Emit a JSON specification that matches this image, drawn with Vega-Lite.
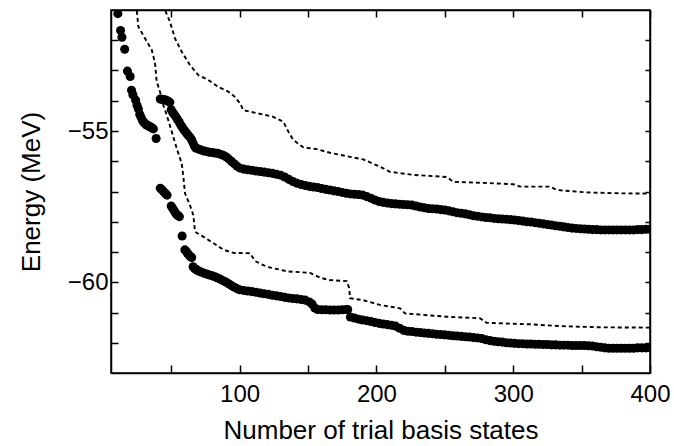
{
  "$schema": "https://vega.github.io/schema/vega-lite/v6.json",
  "width": 539,
  "height": 363,
  "autosize": "none",
  "padding": {"left": 111, "top": 10, "right": 24, "bottom": 73},
  "background": "white",
  "config": {
    "font": "Liberation Sans",
    "view": {"stroke": "black", "strokeWidth": 1.5},
    "axis": {"grid": false, "domainColor": "black", "domainWidth": 1.5, "tickColor": "black", "tickWidth": 1.5, "labelColor": "black", "titleColor": "black", "titleFontWeight": "normal", "labelFont": "Liberation Sans", "titleFont": "Liberation Sans"}
  },
  "datasets": {
    "dots": [
      {"n":11,"E":-51.12,"s":"A"},{"n":13,"E":-51.68,"s":"A"},{"n":14,"E":-51.9,"s":"A"},{"n":16,"E":-52.3,"s":"A"},{"n":18,"E":-53.02,"s":"A"},{"n":20,"E":-53.2,"s":"A"},{"n":21,"E":-53.65,"s":"A"},{"n":22,"E":-53.8,"s":"A"},{"n":24,"E":-53.98,"s":"A"},{"n":25,"E":-54.15,"s":"A"},{"n":26,"E":-54.27,"s":"A"},{"n":27,"E":-54.45,"s":"A"},{"n":28,"E":-54.55,"s":"A"},{"n":29,"E":-54.65,"s":"A"},{"n":30,"E":-54.72,"s":"A"},{"n":31,"E":-54.76,"s":"A"},{"n":32,"E":-54.8,"s":"A"},{"n":33,"E":-54.82,"s":"A"},{"n":34,"E":-54.85,"s":"A"},{"n":35,"E":-54.87,"s":"A"},{"n":36,"E":-54.9,"s":"A"},{"n":37,"E":-54.93,"s":"A"},{"n":39,"E":-55.25,"s":"A"},
      {"n":42,"E":-56.89,"s":"B"},{"n":43,"E":-56.93,"s":"B"},{"n":44,"E":-56.98,"s":"B"},{"n":45,"E":-57.03,"s":"B"},{"n":46,"E":-57.08,"s":"B"},{"n":47,"E":-57.12,"s":"B"},{"n":50,"E":-57.48,"s":"B"},{"n":51,"E":-57.55,"s":"B"},{"n":52,"E":-57.62,"s":"B"},{"n":53,"E":-57.7,"s":"B"},{"n":54,"E":-57.76,"s":"B"},{"n":55,"E":-57.8,"s":"B"},{"n":56,"E":-57.83,"s":"B"},{"n":58,"E":-58.47,"s":"B"},{"n":60,"E":-58.93,"s":"B"},{"n":61,"E":-58.98,"s":"B"},{"n":62,"E":-59.05,"s":"B"},{"n":63,"E":-59.1,"s":"B"},{"n":64,"E":-59.15,"s":"B"},{"n":65,"E":-59.18,"s":"B"},{"n":66,"E":-59.49,"s":"B"},{"n":67,"E":-59.54,"s":"B"},{"n":68,"E":-59.57,"s":"B"},{"n":69,"E":-59.6,"s":"B"},{"n":70,"E":-59.63,"s":"B"},{"n":72,"E":-59.66,"s":"B"},{"n":74,"E":-59.7,"s":"B"},{"n":76,"E":-59.73,"s":"B"},{"n":78,"E":-59.76,"s":"B"},{"n":80,"E":-59.79,"s":"B"},{"n":82,"E":-59.82,"s":"B"},{"n":84,"E":-59.86,"s":"B"},{"n":86,"E":-59.9,"s":"B"},{"n":88,"E":-59.95,"s":"B"},{"n":90,"E":-59.99,"s":"B"},{"n":92,"E":-60.05,"s":"B"},{"n":94,"E":-60.11,"s":"B"},{"n":96,"E":-60.16,"s":"B"},{"n":98,"E":-60.21,"s":"B"},{"n":100,"E":-60.25,"s":"B"},{"n":103,"E":-60.27,"s":"B"},{"n":106,"E":-60.29,"s":"B"},{"n":109,"E":-60.31,"s":"B"},{"n":112,"E":-60.33,"s":"B"},{"n":115,"E":-60.36,"s":"B"},{"n":118,"E":-60.38,"s":"B"},{"n":121,"E":-60.4,"s":"B"},{"n":124,"E":-60.43,"s":"B"},{"n":127,"E":-60.45,"s":"B"},{"n":130,"E":-60.47,"s":"B"},{"n":133,"E":-60.5,"s":"B"},{"n":136,"E":-60.52,"s":"B"},{"n":139,"E":-60.54,"s":"B"},{"n":142,"E":-60.55,"s":"B"},{"n":145,"E":-60.57,"s":"B"},{"n":148,"E":-60.59,"s":"B"},{"n":151,"E":-60.65,"s":"B"},{"n":153,"E":-60.72,"s":"B"},{"n":155,"E":-60.85,"s":"B"},{"n":157,"E":-60.9,"s":"B"},{"n":160,"E":-60.91,"s":"B"},{"n":163,"E":-60.91,"s":"B"},{"n":166,"E":-60.92,"s":"B"},{"n":169,"E":-60.92,"s":"B"},{"n":172,"E":-60.92,"s":"B"},{"n":175,"E":-60.91,"s":"B"},{"n":178,"E":-60.9,"s":"B"},{"n":179,"E":-60.9,"s":"B"},{"n":181,"E":-61.15,"s":"B"},{"n":184,"E":-61.18,"s":"B"},{"n":187,"E":-61.22,"s":"B"},{"n":190,"E":-61.25,"s":"B"},{"n":193,"E":-61.27,"s":"B"},{"n":196,"E":-61.3,"s":"B"},{"n":199,"E":-61.33,"s":"B"},{"n":202,"E":-61.36,"s":"B"},{"n":205,"E":-61.38,"s":"B"},{"n":208,"E":-61.4,"s":"B"},{"n":211,"E":-61.42,"s":"B"},{"n":214,"E":-61.45,"s":"B"},{"n":217,"E":-61.52,"s":"B"},{"n":220,"E":-61.59,"s":"B"},{"n":223,"E":-61.62,"s":"B"},{"n":226,"E":-61.63,"s":"B"},{"n":229,"E":-61.65,"s":"B"},{"n":232,"E":-61.66,"s":"B"},{"n":235,"E":-61.68,"s":"B"},{"n":238,"E":-61.69,"s":"B"},{"n":241,"E":-61.7,"s":"B"},{"n":244,"E":-61.72,"s":"B"},{"n":247,"E":-61.73,"s":"B"},{"n":250,"E":-61.74,"s":"B"},{"n":253,"E":-61.75,"s":"B"},{"n":256,"E":-61.77,"s":"B"},{"n":259,"E":-61.78,"s":"B"},{"n":262,"E":-61.79,"s":"B"},{"n":265,"E":-61.8,"s":"B"},{"n":268,"E":-61.81,"s":"B"},{"n":271,"E":-61.83,"s":"B"},{"n":274,"E":-61.84,"s":"B"},{"n":277,"E":-61.86,"s":"B"},{"n":280,"E":-61.9,"s":"B"},{"n":283,"E":-61.93,"s":"B"},{"n":286,"E":-61.95,"s":"B"},{"n":289,"E":-61.97,"s":"B"},{"n":292,"E":-61.98,"s":"B"},{"n":295,"E":-62.0,"s":"B"},{"n":298,"E":-62.01,"s":"B"},{"n":301,"E":-62.02,"s":"B"},{"n":304,"E":-62.03,"s":"B"},{"n":307,"E":-62.03,"s":"B"},{"n":310,"E":-62.04,"s":"B"},{"n":313,"E":-62.04,"s":"B"},{"n":316,"E":-62.05,"s":"B"},{"n":319,"E":-62.05,"s":"B"},{"n":322,"E":-62.06,"s":"B"},{"n":325,"E":-62.06,"s":"B"},{"n":328,"E":-62.07,"s":"B"},{"n":331,"E":-62.07,"s":"B"},{"n":334,"E":-62.08,"s":"B"},{"n":337,"E":-62.08,"s":"B"},{"n":340,"E":-62.08,"s":"B"},{"n":343,"E":-62.09,"s":"B"},{"n":346,"E":-62.09,"s":"B"},{"n":349,"E":-62.09,"s":"B"},{"n":352,"E":-62.09,"s":"B"},{"n":355,"E":-62.1,"s":"B"},{"n":358,"E":-62.11,"s":"B"},{"n":361,"E":-62.13,"s":"B"},{"n":364,"E":-62.15,"s":"B"},{"n":367,"E":-62.17,"s":"B"},{"n":370,"E":-62.18,"s":"B"},{"n":373,"E":-62.18,"s":"B"},{"n":376,"E":-62.18,"s":"B"},{"n":379,"E":-62.18,"s":"B"},{"n":382,"E":-62.18,"s":"B"},{"n":385,"E":-62.18,"s":"B"},{"n":388,"E":-62.18,"s":"B"},{"n":391,"E":-62.17,"s":"B"},{"n":394,"E":-62.17,"s":"B"},{"n":397,"E":-62.17,"s":"B"},{"n":400,"E":-62.16,"s":"B"},
      {"n":42,"E":-53.94,"s":"C"},{"n":43,"E":-53.95,"s":"C"},{"n":44,"E":-53.96,"s":"C"},{"n":45,"E":-53.97,"s":"C"},{"n":46,"E":-53.98,"s":"C"},{"n":47,"E":-54.0,"s":"C"},{"n":48,"E":-54.02,"s":"C"},{"n":49,"E":-54.05,"s":"C"},{"n":50,"E":-54.3,"s":"C"},{"n":51,"E":-54.38,"s":"C"},{"n":52,"E":-54.44,"s":"C"},{"n":53,"E":-54.5,"s":"C"},{"n":54,"E":-54.57,"s":"C"},{"n":55,"E":-54.65,"s":"C"},{"n":56,"E":-54.72,"s":"C"},{"n":57,"E":-54.8,"s":"C"},{"n":58,"E":-54.87,"s":"C"},{"n":59,"E":-54.94,"s":"C"},{"n":60,"E":-55.0,"s":"C"},{"n":61,"E":-55.06,"s":"C"},{"n":62,"E":-55.12,"s":"C"},{"n":63,"E":-55.17,"s":"C"},{"n":64,"E":-55.22,"s":"C"},{"n":65,"E":-55.3,"s":"C"},{"n":66,"E":-55.4,"s":"C"},{"n":67,"E":-55.5,"s":"C"},{"n":68,"E":-55.56,"s":"C"},{"n":70,"E":-55.6,"s":"C"},{"n":72,"E":-55.63,"s":"C"},{"n":74,"E":-55.66,"s":"C"},{"n":76,"E":-55.68,"s":"C"},{"n":78,"E":-55.7,"s":"C"},{"n":80,"E":-55.71,"s":"C"},{"n":82,"E":-55.73,"s":"C"},{"n":84,"E":-55.74,"s":"C"},{"n":86,"E":-55.77,"s":"C"},{"n":88,"E":-55.8,"s":"C"},{"n":90,"E":-55.85,"s":"C"},{"n":92,"E":-55.92,"s":"C"},{"n":94,"E":-56.0,"s":"C"},{"n":96,"E":-56.08,"s":"C"},{"n":98,"E":-56.16,"s":"C"},{"n":100,"E":-56.22,"s":"C"},{"n":103,"E":-56.26,"s":"C"},{"n":106,"E":-56.28,"s":"C"},{"n":109,"E":-56.3,"s":"C"},{"n":112,"E":-56.32,"s":"C"},{"n":115,"E":-56.34,"s":"C"},{"n":118,"E":-56.36,"s":"C"},{"n":121,"E":-56.38,"s":"C"},{"n":124,"E":-56.4,"s":"C"},{"n":127,"E":-56.43,"s":"C"},{"n":130,"E":-56.46,"s":"C"},{"n":133,"E":-56.52,"s":"C"},{"n":136,"E":-56.6,"s":"C"},{"n":139,"E":-56.67,"s":"C"},{"n":142,"E":-56.73,"s":"C"},{"n":145,"E":-56.77,"s":"C"},{"n":148,"E":-56.8,"s":"C"},{"n":151,"E":-56.83,"s":"C"},{"n":154,"E":-56.85,"s":"C"},{"n":157,"E":-56.87,"s":"C"},{"n":160,"E":-56.9,"s":"C"},{"n":163,"E":-56.93,"s":"C"},{"n":166,"E":-56.95,"s":"C"},{"n":169,"E":-56.98,"s":"C"},{"n":172,"E":-57.0,"s":"C"},{"n":175,"E":-57.03,"s":"C"},{"n":178,"E":-57.06,"s":"C"},{"n":181,"E":-57.08,"s":"C"},{"n":184,"E":-57.09,"s":"C"},{"n":187,"E":-57.1,"s":"C"},{"n":190,"E":-57.12,"s":"C"},{"n":193,"E":-57.17,"s":"C"},{"n":196,"E":-57.22,"s":"C"},{"n":199,"E":-57.28,"s":"C"},{"n":202,"E":-57.33,"s":"C"},{"n":205,"E":-57.36,"s":"C"},{"n":208,"E":-57.38,"s":"C"},{"n":211,"E":-57.4,"s":"C"},{"n":214,"E":-57.41,"s":"C"},{"n":217,"E":-57.42,"s":"C"},{"n":220,"E":-57.43,"s":"C"},{"n":223,"E":-57.44,"s":"C"},{"n":226,"E":-57.45,"s":"C"},{"n":229,"E":-57.48,"s":"C"},{"n":232,"E":-57.51,"s":"C"},{"n":235,"E":-57.54,"s":"C"},{"n":238,"E":-57.56,"s":"C"},{"n":241,"E":-57.57,"s":"C"},{"n":244,"E":-57.58,"s":"C"},{"n":247,"E":-57.6,"s":"C"},{"n":250,"E":-57.61,"s":"C"},{"n":253,"E":-57.64,"s":"C"},{"n":256,"E":-57.67,"s":"C"},{"n":259,"E":-57.7,"s":"C"},{"n":262,"E":-57.72,"s":"C"},{"n":265,"E":-57.74,"s":"C"},{"n":268,"E":-57.77,"s":"C"},{"n":271,"E":-57.8,"s":"C"},{"n":274,"E":-57.82,"s":"C"},{"n":277,"E":-57.84,"s":"C"},{"n":280,"E":-57.86,"s":"C"},{"n":283,"E":-57.87,"s":"C"},{"n":286,"E":-57.89,"s":"C"},{"n":289,"E":-57.9,"s":"C"},{"n":292,"E":-57.91,"s":"C"},{"n":295,"E":-57.92,"s":"C"},{"n":298,"E":-57.93,"s":"C"},{"n":301,"E":-57.94,"s":"C"},{"n":304,"E":-57.96,"s":"C"},{"n":307,"E":-57.98,"s":"C"},{"n":310,"E":-58.0,"s":"C"},{"n":313,"E":-58.01,"s":"C"},{"n":316,"E":-58.03,"s":"C"},{"n":319,"E":-58.05,"s":"C"},{"n":322,"E":-58.07,"s":"C"},{"n":325,"E":-58.09,"s":"C"},{"n":328,"E":-58.11,"s":"C"},{"n":331,"E":-58.13,"s":"C"},{"n":334,"E":-58.15,"s":"C"},{"n":337,"E":-58.17,"s":"C"},{"n":340,"E":-58.19,"s":"C"},{"n":343,"E":-58.21,"s":"C"},{"n":346,"E":-58.22,"s":"C"},{"n":349,"E":-58.23,"s":"C"},{"n":352,"E":-58.24,"s":"C"},{"n":355,"E":-58.25,"s":"C"},{"n":358,"E":-58.26,"s":"C"},{"n":361,"E":-58.26,"s":"C"},{"n":364,"E":-58.27,"s":"C"},{"n":367,"E":-58.27,"s":"C"},{"n":370,"E":-58.27,"s":"C"},{"n":373,"E":-58.27,"s":"C"},{"n":376,"E":-58.27,"s":"C"},{"n":379,"E":-58.27,"s":"C"},{"n":382,"E":-58.27,"s":"C"},{"n":385,"E":-58.27,"s":"C"},{"n":388,"E":-58.27,"s":"C"},{"n":391,"E":-58.26,"s":"C"},{"n":394,"E":-58.26,"s":"C"},{"n":397,"E":-58.25,"s":"C"},{"n":400,"E":-58.25,"s":"C"}
    ],
    "lines": [
      {"n":44.8,"E":-50.8,"s":"upper"},{"n":45.5,"E":-51.0,"s":"upper"},{"n":49.1,"E":-51.39,"s":"upper"},{"n":52.8,"E":-51.94,"s":"upper"},{"n":57.7,"E":-52.38,"s":"upper"},{"n":63.7,"E":-52.82,"s":"upper"},{"n":69.8,"E":-53.15,"s":"upper"},{"n":77.1,"E":-53.31,"s":"upper"},{"n":84.4,"E":-53.54,"s":"upper"},{"n":91.7,"E":-53.7,"s":"upper"},{"n":96,"E":-53.85,"s":"upper"},{"n":100.3,"E":-54.08,"s":"upper"},{"n":102.7,"E":-54.31,"s":"upper"},{"n":112.5,"E":-54.41,"s":"upper"},{"n":124.6,"E":-54.53,"s":"upper"},{"n":131.9,"E":-54.69,"s":"upper"},{"n":135.6,"E":-55.02,"s":"upper"},{"n":139.3,"E":-55.3,"s":"upper"},{"n":146.6,"E":-55.54,"s":"upper"},{"n":156.4,"E":-55.6,"s":"upper"},{"n":166.1,"E":-55.72,"s":"upper"},{"n":178.3,"E":-55.83,"s":"upper"},{"n":190.4,"E":-55.94,"s":"upper"},{"n":202.6,"E":-56.18,"s":"upper"},{"n":210,"E":-56.35,"s":"upper"},{"n":227,"E":-56.45,"s":"upper"},{"n":251.4,"E":-56.52,"s":"upper"},{"n":256.3,"E":-56.68,"s":"upper"},{"n":275.7,"E":-56.71,"s":"upper"},{"n":300.1,"E":-56.76,"s":"upper"},{"n":305,"E":-56.84,"s":"upper"},{"n":326.9,"E":-56.84,"s":"upper"},{"n":331.8,"E":-56.95,"s":"upper"},{"n":353.7,"E":-57.03,"s":"upper"},{"n":378.1,"E":-57.06,"s":"upper"},{"n":400,"E":-57.07,"s":"upper"},
      {"n":24.2,"E":-50.8,"s":"lower"},{"n":24.8,"E":-51.0,"s":"lower"},{"n":26,"E":-51.55,"s":"lower"},{"n":30.9,"E":-51.94,"s":"lower"},{"n":35.8,"E":-52.32,"s":"lower"},{"n":38.2,"E":-52.76,"s":"lower"},{"n":39.4,"E":-53.37,"s":"lower"},{"n":41.8,"E":-53.7,"s":"lower"},{"n":44.2,"E":-54.14,"s":"lower"},{"n":46.7,"E":-54.47,"s":"lower"},{"n":50.4,"E":-55.02,"s":"lower"},{"n":54,"E":-55.57,"s":"lower"},{"n":57.7,"E":-56.07,"s":"lower"},{"n":58.9,"E":-56.51,"s":"lower"},{"n":60.1,"E":-57.06,"s":"lower"},{"n":63.7,"E":-57.45,"s":"lower"},{"n":66.2,"E":-57.78,"s":"lower"},{"n":67.4,"E":-58.33,"s":"lower"},{"n":72.2,"E":-58.46,"s":"lower"},{"n":80.6,"E":-58.7,"s":"lower"},{"n":88,"E":-58.92,"s":"lower"},{"n":95.4,"E":-59.03,"s":"lower"},{"n":107.6,"E":-59.04,"s":"lower"},{"n":111.3,"E":-59.3,"s":"lower"},{"n":120,"E":-59.49,"s":"lower"},{"n":135,"E":-59.64,"s":"lower"},{"n":151.5,"E":-59.69,"s":"lower"},{"n":158.8,"E":-59.85,"s":"lower"},{"n":166.1,"E":-59.93,"s":"lower"},{"n":178.3,"E":-59.96,"s":"lower"},{"n":180.2,"E":-60.2,"s":"lower"},{"n":180.7,"E":-60.53,"s":"lower"},{"n":190.2,"E":-60.59,"s":"lower"},{"n":202.6,"E":-60.75,"s":"lower"},{"n":217.3,"E":-60.86,"s":"lower"},{"n":220.9,"E":-61.03,"s":"lower"},{"n":251.4,"E":-61.14,"s":"lower"},{"n":275.7,"E":-61.19,"s":"lower"},{"n":280.6,"E":-61.34,"s":"lower"},{"n":312.3,"E":-61.39,"s":"lower"},{"n":334.2,"E":-61.45,"s":"lower"},{"n":363.5,"E":-61.49,"s":"lower"},{"n":400,"E":-61.5,"s":"lower"}
    ]
  },
  "layer": [
    {
      "data": {"name": "lines"},
      "mark": {"type": "line", "clip": true, "color": "black", "strokeWidth": 1.9, "strokeDash": [4, 3], "interpolate": "linear"},
      "encoding": {
        "x": {"field": "n", "type": "quantitative", "scale": {"domain": [6, 400], "nice": false, "zero": false},
          "axis": {"orient": "top", "values": [50, 100, 150, 200, 250, 300, 350, 400], "labels": false, "title": null, "tickSize": -7}},
        "y": {"field": "E", "type": "quantitative", "scale": {"domain": [-63, -51], "nice": false, "zero": false},
          "axis": {"orient": "right", "values": [-62, -61, -60, -59, -58, -57, -56, -55, -54, -53, -52], "labels": false, "title": null, "tickSize": -5}},
        "detail": {"field": "s"},
        "order": {"field": "n", "type": "quantitative"}
      }
    },
    {
      "data": {"name": "dots"},
      "mark": {"type": "point", "filled": true, "clip": true, "color": "black", "opacity": 1, "size": 82, "shape": "circle"},
      "encoding": {
        "x": {"field": "n", "type": "quantitative", "scale": {"domain": [6, 400], "nice": false, "zero": false},
          "axis": {"orient": "bottom", "values": [50, 100, 150, 200, 250, 300, 350, 400], "labelExpr": "datum.value % 100 === 0 ? datum.label : ''", "tickSize": -8, "labelPadding": 17, "labelFontSize": 24, "labelFlush": false, "labelOverlap": false, "labelBound": false, "title": "Number of trial basis states", "titleFontSize": 26, "titlePadding": 11}},
        "y": {"field": "E", "type": "quantitative", "scale": {"domain": [-63, -51], "nice": false, "zero": false},
          "axis": {"orient": "left", "values": [-62, -61, -60, -59, -58, -57, -56, -55, -54, -53, -52], "labelExpr": "datum.value % 5 === 0 ? datum.label : ''", "tickSize": -7, "labelPadding": 10, "labelFontSize": 24, "labelFlush": false, "labelOverlap": false, "labelBound": false, "title": "Energy (MeV)", "titleFontSize": 26, "titlePadding": 23}}
      }
    }
  ],
  "resolve": {"axis": {"x": "independent", "y": "independent"}}
}
